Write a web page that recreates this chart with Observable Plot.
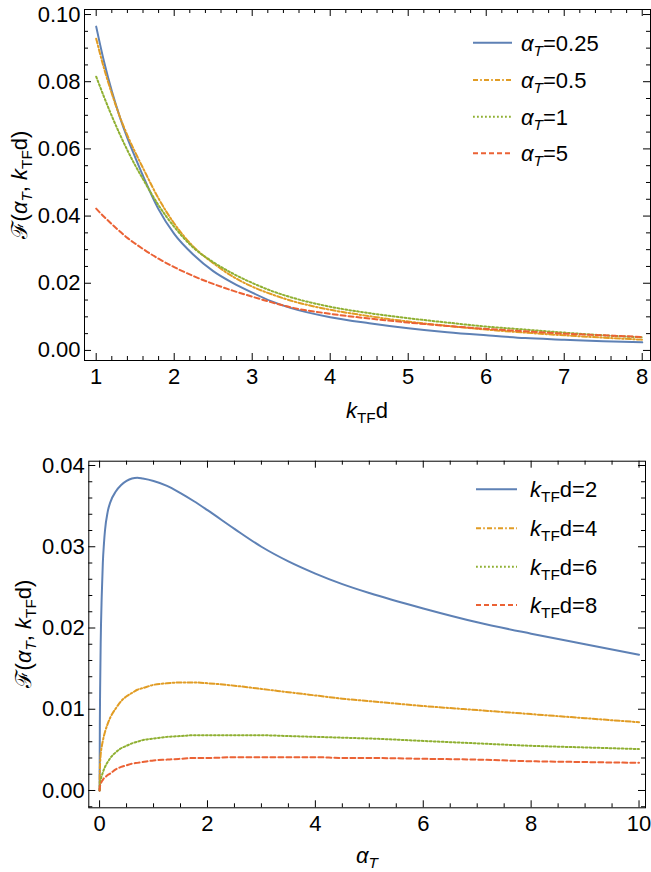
<!DOCTYPE html>
<html>
<head>
<meta charset="utf-8">
<script src="https://cdn.jsdelivr.net/npm/d3@7"></script>
<script src="https://cdn.jsdelivr.net/npm/@observablehq/plot@0.6"></script>
<style>
  html,body{margin:0;padding:0;background:#fff;}
  #chart svg{display:block;}
</style>
</head>
<body>
<div id="chart"></div>
<script>
// ---------- Top panel: F vs k_TF d ----------
const kTF = [1,1.1,1.2,1.3,1.4,1.5,1.6,1.8,2,2.25,2.5,2.75,3,3.25,3.5,4,4.5,5,5.5,6,6.5,7,7.5,8];
const alpha025 = [0.0964,0.0860,0.0772,0.0697,0.0632,0.0575,0.0520,0.0420,0.0347,0.0284,0.0236,0.0201,0.0172,0.0146,0.0126,0.0099,0.0081,0.0066,0.0054,0.0045,0.0037,0.0032,0.0027,0.0024];
const alpha05  = [0.0928,0.0840,0.0765,0.0698,0.0640,0.0590,0.0543,0.0452,0.0378,0.0308,0.0260,0.0220,0.0190,0.0167,0.0148,0.0121,0.0102,0.0086,0.0073,0.0062,0.0053,0.0045,0.0038,0.0032];
const alpha1   = [0.0815,0.0755,0.0698,0.0645,0.0596,0.0551,0.0510,0.0432,0.0368,0.0305,0.0263,0.0229,0.0201,0.0177,0.0158,0.0130,0.0111,0.0096,0.0083,0.0071,0.0062,0.0053,0.0045,0.0039];
const alpha5   = [0.0422,0.0398,0.0376,0.0355,0.0335,0.0318,0.0302,0.0273,0.0248,0.0221,0.0198,0.0178,0.0160,0.0143,0.0128,0.0109,0.0095,0.0083,0.0073,0.0064,0.0057,0.0050,0.0045,0.0040];
const topLegendValues = ["0.25","0.5","1","5"];
const topXTicks = [1,2,3,4,5,6,7,8];
const topYTicks = [0,0.02,0.04,0.06,0.08,0.10];

// ---------- Bottom panel: F vs alpha_T ----------
const alphaT = [0,0.005,0.01,0.02,0.04,0.06,0.08,0.1,0.15,0.2,0.3,0.4,0.5,0.6,0.7,0.8,1,1.25,1.5,1.75,2,2.5,3,3.5,4,4.5,5,6,7,8,9,10];
const kd2 = [0,0.0085,0.0125,0.0180,0.0240,0.0280,0.0303,0.0320,0.0343,0.0355,0.0368,0.0376,0.0381,0.0384,0.0385,0.0384,0.0381,0.0375,0.0366,0.0356,0.0345,0.0322,0.0300,0.0282,0.0267,0.0254,0.0243,0.0224,0.0207,0.0193,0.0180,0.0167];
const kd4 = [0,0.0025,0.0034,0.0044,0.0054,0.0061,0.0067,0.0072,0.0082,0.0090,0.0101,0.0110,0.0116,0.0120,0.0124,0.0126,0.0130,0.0132,0.0133,0.0133,0.0132,0.0129,0.0125,0.0121,0.0117,0.0113,0.0110,0.0104,0.0099,0.0094,0.0089,0.0084];
const kd6 = [0,0.0006,0.0009,0.0013,0.0018,0.0022,0.0026,0.0029,0.0035,0.0040,0.0047,0.0052,0.0055,0.0058,0.0060,0.0062,0.0064,0.0066,0.0067,0.0068,0.0068,0.0068,0.0068,0.0067,0.0066,0.0065,0.0064,0.0061,0.0058,0.0055,0.0053,0.0051];
const kd8 = [0,0.0004,0.0006,0.0008,0.0011,0.0013,0.0015,0.0016,0.0019,0.0021,0.0026,0.0029,0.0031,0.0033,0.0034,0.0035,0.0037,0.0038,0.0039,0.0040,0.0040,0.0041,0.0041,0.0041,0.0041,0.0040,0.0040,0.0039,0.0038,0.0036,0.0035,0.0034];
const bottomLegendValues = ["2","4","6","8"];
const bottomXTicks = [0,2,4,6,8,10];
const bottomYTicks = [0,0.01,0.02,0.03,0.04];

// ---------- Styles ----------
const colors = ["#5E81B5","#E19C24","#8FB032","#EB6235"];
const dashes = ["none","5,2.2,1.6,2.2","1.8,2.2","5,3"];
const FONT = "'Liberation Sans', Arial, sans-serif";
const FS = 22;

function panel(cfg) {
  const iw = cfg.width - cfg.ml - cfg.mr, ih = cfg.height - cfg.mt - cfg.mb;
  const marks = [];
  cfg.series.forEach((ys, i) => {
    const rows = cfg.xs.map((x, j) => ({x, y: ys[j]}));
    marks.push(Plot.line(rows, {x: "x", y: "y", stroke: colors[i], strokeWidth: 2,
      strokeDasharray: dashes[i], curve: "monotone-x", clip: true}));
  });
  const MAJ = 7, MIN = 4;
  const inX = v => v >= cfg.xDomain[0] && v <= cfg.xDomain[1];
  const inY = v => v >= cfg.yDomain[0] && v <= cfg.yDomain[1];
  const xMin = cfg.xMinor.filter(inX), yMin = cfg.yMinor.filter(inY);
  const tk = {stroke: "#000", strokeWidth: 1};
  marks.push(
    Plot.tickX(cfg.xMajor, {x: d => d, insetTop: ih - MAJ, ...tk}),
    Plot.tickX(xMin, {x: d => d, insetTop: ih - MIN, ...tk}),
    Plot.tickX(cfg.xMajor, {x: d => d, insetBottom: ih - MAJ, ...tk}),
    Plot.tickX(xMin, {x: d => d, insetBottom: ih - MIN, ...tk}),
    Plot.tickY(cfg.yMajor, {y: d => d, insetRight: iw - MAJ, ...tk}),
    Plot.tickY(yMin, {y: d => d, insetRight: iw - MIN, ...tk}),
    Plot.tickY(cfg.yMajor, {y: d => d, insetLeft: iw - MAJ, ...tk}),
    Plot.tickY(yMin, {y: d => d, insetLeft: iw - MIN, ...tk}),
    Plot.frame({stroke: "#000", strokeWidth: 1}),
    Plot.axisX({ticks: cfg.xMajor, tickSize: 0, tickPadding: 8, label: null, tickFormat: d => String(d), fontSize: FS}),
    Plot.axisY({ticks: cfg.yMajor, tickSize: 0, tickPadding: 4, label: null, tickFormat: cfg.yFmt, fontSize: FS})
  );
  return Plot.plot({
    width: cfg.width, height: cfg.height,
    marginTop: cfg.mt, marginBottom: cfg.mb, marginLeft: cfg.ml, marginRight: cfg.mr,
    x: {domain: cfg.xDomain},
    y: {domain: cfg.yDomain},
    style: {fontFamily: FONT, fontSize: FS + "px", color: "#000", background: "#fff", overflow: "visible"},
    marks
  });
}

function rich(g, x, y, parts, anchor) {
  const t = g.append("text").attr("x", x).attr("y", y)
    .attr("font-family", FONT).attr("font-size", FS).attr("fill", "#000")
    .attr("text-anchor", anchor || "start");
  let cur = 0;
  parts.forEach(p => {
    const ts = t.append("tspan").text(p.t);
    if (p.i) ts.attr("font-style", "italic");
    const target = p.sub ? 5 : 0;
    if (p.sub) ts.attr("font-size", FS * 0.7);
    if (target !== cur) { ts.attr("dy", target - cur); cur = target; }
  });
  return t;
}

const yLabelParts = [{t:"\u2131("},{t:"\u03B1",i:1},{t:"T",i:1,sub:1},{t:", "},{t:"k",i:1},{t:"TF",sub:1},{t:"d)"}];

function legend(svg, ys, x0, x1, tx, labelFn) {
  const g = svg.append("g");
  ys.forEach((y, i) => {
    g.append("line").attr("x1", x0).attr("x2", x1).attr("y1", y).attr("y2", y)
      .attr("stroke", colors[i]).attr("stroke-width", 2)
      .attr("stroke-dasharray", dashes[i]);
    rich(g, tx, y + 8, labelFn(i));
  });
}

const W = 651;
const topChart = panel({
  width: W, height: 436, mt: 9, mb: 76, ml: 84, mr: 1,
  xDomain: [0.85, 8.106], yDomain: [-0.003, 0.1015],
  xs: kTF, series: [alpha025, alpha05, alpha1, alpha5],
  xMajor: topXTicks, xMinor: d3.range(0.8, 8.21, 0.2).map(v => +v.toFixed(2)).filter(v => Math.abs(v - Math.round(v)) > 1e-6),
  yMajor: topYTicks, yMinor: d3.range(-0.005, 0.1051, 0.005).map(v => +v.toFixed(4)).filter(v => Math.abs(v / 0.02 - Math.round(v / 0.02)) > 1e-6),
  yFmt: d3.format(".2f")
});
const bottomChart = panel({
  width: W, height: 436, mt: 24.7, mb: 64.7, ml: 88.3, mr: 6,
  xDomain: [-0.2, 10.12], yDomain: [-0.00213, 0.04053],
  xs: alphaT, series: [kd2, kd4, kd6, kd8],
  xMajor: bottomXTicks, xMinor: d3.range(0.5, 10.01, 0.5).filter(v => v % 2 !== 0),
  yMajor: bottomYTicks, yMinor: d3.range(-0.002, 0.0411, 0.002).map(v => +v.toFixed(4)).filter(v => Math.abs(v / 0.01 - Math.round(v / 0.01)) > 1e-6),
  yFmt: d3.format(".2f")
});

const s1 = d3.select(topChart), s2 = d3.select(bottomChart);
// axis titles
rich(s1.append("g"), 367, 418, [{t:"k",i:1},{t:"TF",sub:1},{t:"d"}], "middle");
rich(s2.append("g"), 367, 427, [{t:"\u03B1",i:1},{t:"T",i:1,sub:1}], "middle");
rich(s1.append("g").attr("transform", "translate(27,185) rotate(-90)"), 0, 0, yLabelParts, "middle");
rich(s2.append("g").attr("transform", "translate(31,198) rotate(-90)"), 0, 0, yLabelParts, "middle");
// legends
legend(s1, [42.7, 80, 116.7, 153.3], 473, 512, 521, i => [{t:"\u03B1",i:1},{t:"T",i:1,sub:1},{t:"=" + topLegendValues[i]}]);
legend(s2, [53.3, 92.3, 130.7, 169], 476, 517, 530, i => [{t:"k",i:1},{t:"TF",sub:1},{t:"d=" + bottomLegendValues[i]}]);

document.getElementById("chart").append(topChart, bottomChart);
</script>
</body>
</html>
